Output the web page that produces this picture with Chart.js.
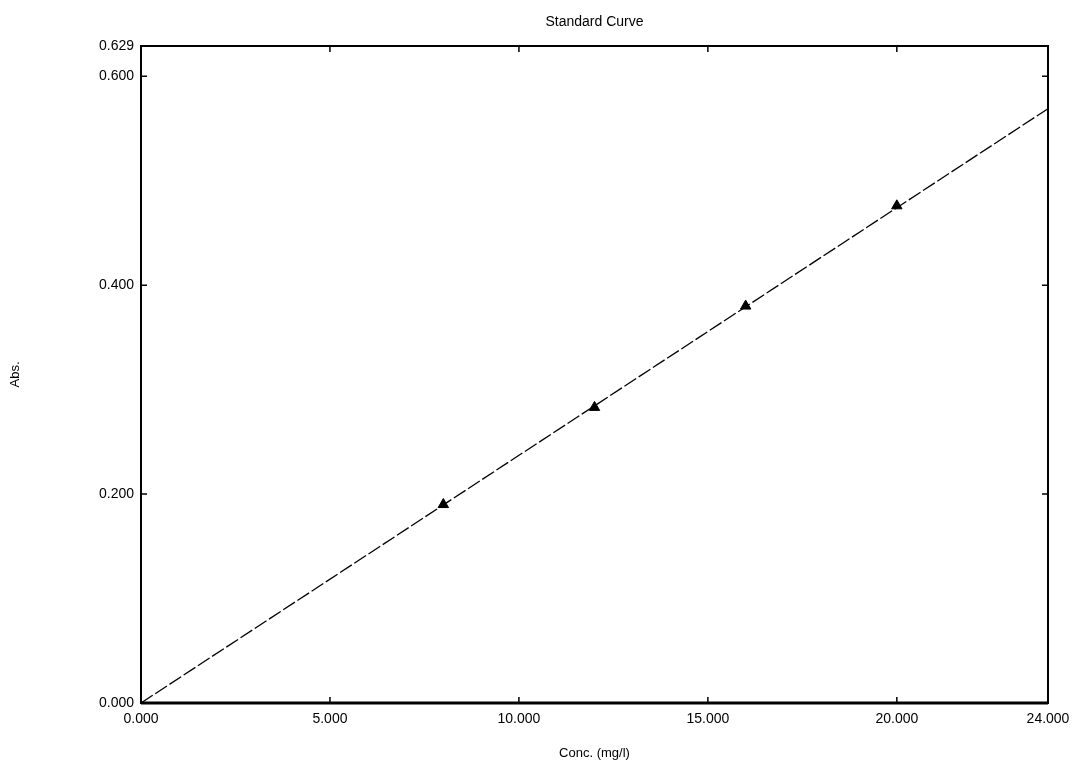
<!DOCTYPE html>
<html>
<head>
<meta charset="utf-8">
<title>Standard Curve</title>
<script src="https://cdn.jsdelivr.net/npm/chart.js@4/dist/chart.umd.min.js"></script>
<style>
    html, body { margin: 0; padding: 0; background: #fff; }
    #wrap { width: 1078px; height: 769px; }
</style>
</head>
<body>
<div id="wrap"><canvas id="curveChart"></canvas></div>
<script>
// Standards (conc. in mg/l, absorbance)
const concentrations = [8, 12, 16, 20];
const absorbances = [0.190, 0.283, 0.380, 0.476];

// Fitted line through the origin
const fitConc = [0, 24];
const fitAbs = [0, 0.569];

// Axis ticks
const xTickValues = [0, 5, 10, 15, 20, 24];
const yTickValues = [0, 0.2, 0.4, 0.6, 0.629];

const chartTitle = 'Standard Curve';

// Titre centre sur la zone du graphique
const titlePlugin = {
    id: 'plotTitle',
    afterDraw(chart) {
        const ctx = chart.ctx;
        const a = chart.chartArea;
        ctx.save();
        ctx.fillStyle = '#000';
        ctx.font = '14px "Liberation Sans", Arial';
        ctx.textAlign = 'center';
        ctx.textBaseline = 'middle';
        ctx.fillText(chartTitle, (a.left + a.right) / 2, 22);
        ctx.restore();
    }
};

// Cadre + petites graduations vers l'interieur
const framePlugin = {
    id: 'frame',
    afterDatasetsDraw(chart) {
        const ctx = chart.ctx;
        const a = chart.chartArea;
        const xs = chart.scales.x;
        const ys = chart.scales.y;
        ctx.save();
        ctx.strokeStyle = '#000';
        ctx.lineWidth = 2;
        ctx.strokeRect(a.left, a.top, a.right - a.left, a.bottom - a.top);
        ctx.lineWidth = 3;
        ctx.beginPath();
        ctx.moveTo(a.left, a.bottom);
        ctx.lineTo(a.right, a.bottom);
        ctx.stroke();

        ctx.lineWidth = 1.5;
        ctx.beginPath();
        xs.ticks.forEach(t => {
            const px = xs.getPixelForValue(t.value);
            ctx.moveTo(px, a.bottom);
            ctx.lineTo(px, a.bottom - 6);
            ctx.moveTo(px, a.top);
            ctx.lineTo(px, a.top + 6);
        });
        ys.ticks.forEach(t => {
            const py = ys.getPixelForValue(t.value);
            ctx.moveTo(a.left, py);
            ctx.lineTo(a.left + 6, py);
            ctx.moveTo(a.right, py);
            ctx.lineTo(a.right - 6, py);
        });
        ctx.stroke();
        ctx.restore();
    }
};

const ctx = document.getElementById('curveChart');

new Chart(ctx, {
    type: 'scatter',
    data: {
        datasets: [
            {
                label: 'Fit',
                type: 'line',
                data: fitConc.map((c, i) => ({ x: c, y: fitAbs[i] })),
                borderColor: '#000',
                borderWidth: 1.3,
                borderDash: [14, 3],
                pointRadius: 0,
                fill: false
            },
            {
                label: 'Standards',
                data: concentrations.map((c, i) => ({ x: c, y: absorbances[i] })),
                pointStyle: 'triangle',
                pointRadius: 6,
                backgroundColor: '#000',
                borderColor: '#000'
            }
        ]
    },
    options: {
        responsive: true,
        maintainAspectRatio: false,
        animation: false,
        layout: {
            padding: { top: 46, right: 30, bottom: 4, left: 4 }
        },
        plugins: {
            legend: { display: false },
            tooltip: { enabled: false },
            title: { display: false }
        },
        scales: {
            x: {
                type: 'linear',
                min: 0,
                max: 24,
                afterBuildTicks: scale => {
                    scale.ticks = xTickValues.map(v => ({ value: v }));
                },
                afterFit: scale => { scale.height = 62; },
                grid: { display: false, drawTicks: false },
                border: { display: false },
                ticks: {
                    color: '#000',
                    font: { family: 'Liberation Sans, Arial', size: 14 },
                    padding: 8,
                    maxRotation: 0,
                    callback: v => v.toFixed(3)
                },
                title: {
                    display: true,
                    text: 'Conc. (mg/l)',
                    color: '#000',
                    font: { family: 'Liberation Sans, Arial', size: 13 },
                    padding: { top: 12 }
                }
            },
            y: {
                type: 'linear',
                min: 0,
                max: 0.629,
                afterBuildTicks: scale => {
                    scale.ticks = yTickValues.map(v => ({ value: v }));
                },
                afterFit: scale => { scale.width = 137; },
                grid: { display: false, drawTicks: false },
                border: { display: false },
                ticks: {
                    color: '#000',
                    font: { family: 'Liberation Sans, Arial', size: 14 },
                    padding: 7,
                    callback: v => v.toFixed(3)
                },
                title: {
                    display: true,
                    text: 'Abs.',
                    color: '#000',
                    font: { family: 'Liberation Sans, Arial', size: 13 },
                    padding: { bottom: 0 }
                }
            }
        }
    },
    plugins: [framePlugin, titlePlugin]
});
</script>
</body>
</html>
